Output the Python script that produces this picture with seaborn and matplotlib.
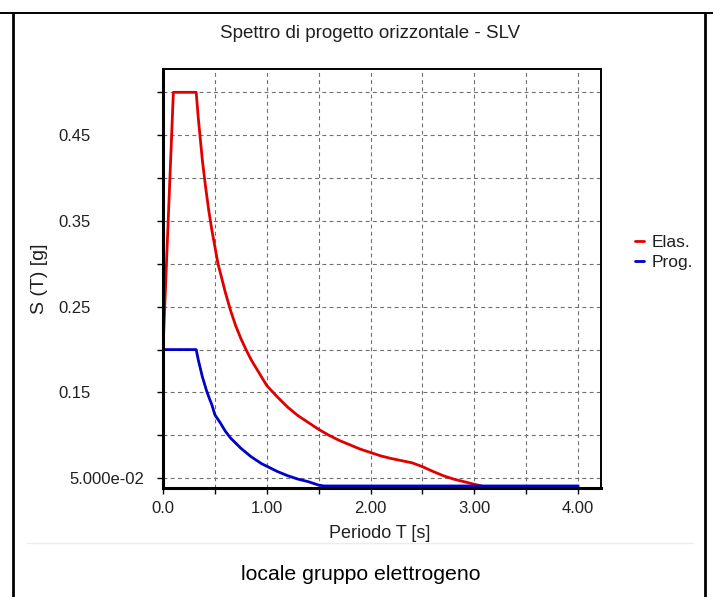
import matplotlib
matplotlib.use("Agg")
import matplotlib.pyplot as plt
import matplotlib.transforms as mtransforms
from matplotlib.lines import Line2D
import numpy as np
import pandas as pd
import seaborn as sns

# spettro elastico
T_elas = [0.0, 0.03, 0.06, 0.10, 0.32, 0.34, 0.36, 0.38, 0.41, 0.44, 0.47, 0.50, 0.53,
          0.56, 0.60, 0.65, 0.70, 0.75, 0.80, 0.85, 0.90, 0.95, 1.00, 1.10, 1.20, 1.30,
          1.40, 1.50, 1.60, 1.70, 1.80, 1.90, 2.00, 2.10, 2.20, 2.30, 2.40, 2.50, 2.60,
          2.70, 2.80, 2.90, 3.00, 3.10]
S_elas = [0.20, 0.29, 0.38, 0.50, 0.50, 0.470, 0.445, 0.420, 0.390, 0.363, 0.340, 0.320,
          0.300, 0.286, 0.267, 0.246, 0.228, 0.213, 0.200, 0.188, 0.178, 0.168, 0.158,
          0.145, 0.133, 0.123, 0.115, 0.107, 0.100, 0.094, 0.089, 0.084, 0.080, 0.076,
          0.073, 0.0705, 0.068, 0.0635, 0.058, 0.053, 0.049, 0.046, 0.043, 0.040]

# spettro di progetto
T_prog = [0.0, 0.32, 0.34, 0.36, 0.38, 0.40, 0.42, 0.45, 0.47, 0.50, 0.55, 0.60, 0.65,
          0.70, 0.75, 0.80, 0.85, 0.90, 0.95, 1.00, 1.05, 1.10, 1.15, 1.20, 1.25, 1.30,
          1.35, 1.40, 1.45, 1.50, 1.55, 4.00]
S_prog = [0.20, 0.20, 0.188, 0.178, 0.168, 0.160, 0.152, 0.142, 0.136, 0.124, 0.115,
          0.105, 0.097, 0.091, 0.085, 0.080, 0.075, 0.071, 0.067, 0.064, 0.061, 0.058,
          0.0555, 0.053, 0.051, 0.049, 0.0475, 0.046, 0.044, 0.042, 0.041, 0.041]

series = ["Elas.", "Prog."]
colori = ["#e00000", "#0000c8"]
x_ticks = [0, 1, 2, 3, 4]
x_labels = ["0.0", "1.00", "2.00", "3.00", "4.00"]
y_ticks = [0.05, 0.15, 0.25, 0.35, 0.45]
y_labels = ["5.000e-02", "0.15", "0.25", "0.35", "0.45"]

df = pd.concat([
    pd.DataFrame({"T": T_elas, "S": S_elas, "serie": series[0]}),
    pd.DataFrame({"T": T_prog, "S": S_prog, "serie": series[1]}),
], ignore_index=True)

sns.set_style("white")
plt.rcParams["font.family"] = ["Liberation Sans", "DejaVu Sans"]

fig = plt.figure(figsize=(7.13, 5.97), dpi=100)
ax = fig.add_axes([0.2286, 0.1821, 0.6143, 0.7018])

sns.lineplot(data=df, x="T", y="S", hue="serie", palette=colori,
             estimator=None, sort=False, linewidth=2.0, ax=ax, legend=False)

ax.set_xlim(0, 4.22)
ax.set_ylim(0.0383, 0.5268)

ax.set_xticks(x_ticks, x_labels)
ax.set_xticks(np.arange(0.5, 4.01, 1.0), minor=True)
ax.set_yticks(y_ticks, y_labels)
ax.set_yticks(np.arange(0.10, 0.51, 0.10), minor=True)
ax.grid(True, which="both", color="#707070", linestyle=(0, (3.5, 3)), linewidth=0.8)
ax.tick_params(which="both", direction="out", length=4, width=1, color="black",
               left=True, bottom=True, labelsize=12, labelcolor="#202020")
ax.tick_params(axis="x", pad=5)

# etichette asse y come nel grafico originale
for tk, lab in zip(ax.yaxis.get_major_ticks(), y_labels):
    dx = -94 if lab.startswith("5.000") else -105
    tk.label1.set_horizontalalignment("left")
    tk.label1.set_transform(ax.get_yaxis_transform() +
                            mtransforms.ScaledTranslation(dx / 100, 0, fig.dpi_scale_trans))

for side, lw in [("left", 2.2), ("bottom", 2.2), ("top", 1.4), ("right", 1.4)]:
    ax.spines[side].set_visible(True)
    ax.spines[side].set_color("black")
    ax.spines[side].set_linewidth(lw)

ax.set_xlabel("")
ax.set_ylabel("")

handles = [Line2D([], [], color=c, lw=2) for c in colori]
fig.legend(handles, series, loc="center left", bbox_to_anchor=(0.868, 0.577),
           frameon=False, handlelength=0.55, handletextpad=0.45, labelspacing=0.25,
           fontsize=12.5, labelcolor="#202020")

fig.text(370 / 713, 1 - 33 / 597, "Spettro di progetto orizzontale - SLV",
         ha="center", va="center", fontsize=13.5, color="#202020")
fig.text(380 / 713, 1 - 534 / 597, "Periodo T [s]", ha="center", va="center",
         fontsize=13, color="#202020")
fig.text(39 / 713, 1 - 279 / 597, "S (T) [g]", ha="center", va="center",
         rotation=90, fontsize=14, color="#202020")
fig.text(361 / 713, 1 - 575 / 597, "locale gruppo elettrogeno", ha="center",
         va="center", fontsize=15.3, color="black")

# bordo della cella
border = [([13, 13], [13, 597], 2.0), ([705, 705], [13, 597], 2.0), ([0, 713], [13, 13], 1.4)]
for xs, ys, lw in border:
    fig.add_artist(Line2D([x / 713 for x in xs], [1 - y / 597 for y in ys],
                          color="black", lw=lw, transform=fig.transFigure))
fig.add_artist(Line2D([27 / 713, 693 / 713], [1 - 543 / 597] * 2, color="#ececec",
                      lw=1, transform=fig.transFigure))

fig.savefig("out.png", dpi=100)
